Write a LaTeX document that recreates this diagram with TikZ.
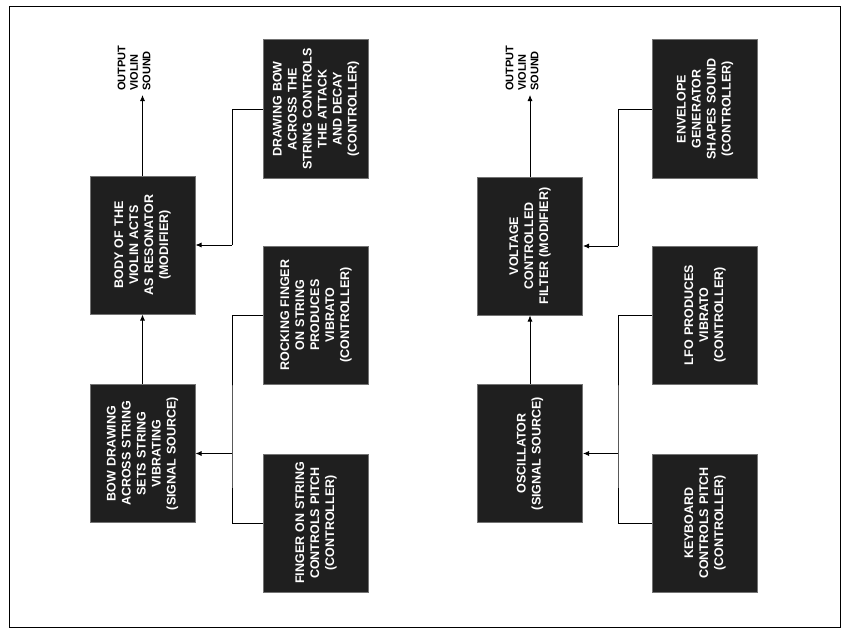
\documentclass[tikz,border=0pt]{standalone}
\usepackage{fontspec}
\setmainfont{Liberation Sans}
\usetikzlibrary{arrows.meta}
\newcommand{\myfontblk}{\fontsize{12.5}{15}\selectfont\bfseries\hyphenpenalty=10000\relax\exhyphenpenalty=10000\relax}
\begin{document}
\begin{tikzpicture}[x=1pt,y=-1pt,
  blk/.style={rotate=90,fill=black!88,draw=black!55,line width=1pt,text=white,
    minimum width=138pt,minimum height=105pt,inner sep=3pt,text width=126pt,align=center,
    font=\myfontblk},
  outlbl/.style={rotate=90,anchor=west,align=left,inner sep=1pt,
    font=\fontsize{11}{12.5}\selectfont\bfseries},
  wire/.style={line width=0.8pt},
  arr/.style={wire,-{Latex[length=6pt,width=5pt]}}]
\useasboundingbox (0,0) rectangle (848,634);
\draw[line width=0.8pt] (9,6) rectangle (840,627);
% ---- left: violin
\node[blk] (A) at (142.5,245) {BODY OF THE VIOLIN ACTS AS RESONATOR (MODIFIER)};
\node[blk] (B) at (142.5,453.5) {BOW DRAWING ACROSS STRING SETS STRING VIBRATING (SIGNAL SOURCE)};
\node[blk] (C1) at (316,109) {DRAWING BOW ACROSS THE STRING CONTROLS THE ATTACK AND DECAY (CONTROLLER)};
\node[blk] (C2) at (316,315) {ROCKING FINGER ON STRING PRODUCES VIBRATO (CONTROLLER)};
\node[blk] (C3) at (316,523) {FINGER ON STRING CONTROLS PITCH (CONTROLLER)};
\node[outlbl] (O1) at (134,92) {OUTPUT\\VIOLIN\\SOUND};
\coordinate (o1) at (142.5,95);
\coordinate (j1) at (232,245);
\coordinate (j2) at (232,453.5);
\draw[arr] (B) -- (A);
\draw[arr] (A) -- (o1);
\draw[wire] (C1.north) -| (j1);
\draw[arr] (j1) -- (A.south);
\draw[wire] (C2.north) -| (j2) |- (C3.north);
\draw[arr] (j2) -- (B.south);
% ---- right: synthesizer
\node[blk] (D) at (530,246) {VOLTAGE CONTROLLED FILTER (MODIFIER)};
\node[blk] (E) at (530,453.5) {OSCILLATOR (SIGNAL SOURCE)};
\node[blk] (F1) at (705,109) {ENVELOPE GENERATOR SHAPES SOUND (CONTROLLER)};
\node[blk] (F2) at (705,315) {LFO PRODUCES VIBRATO (CONTROLLER)};
\node[blk] (F3) at (705,523) {KEYBOARD CONTROLS PITCH (CONTROLLER)};
\node[outlbl] (O2) at (522,92) {OUTPUT\\VIOLIN\\SOUND};
\coordinate (o2) at (530,95);
\coordinate (k1) at (618,246);
\coordinate (k2) at (618,453.5);
\draw[arr] (E) -- (D);
\draw[arr] (D) -- (o2);
\draw[wire] (F1.north) -| (k1);
\draw[arr] (k1) -- (D.south);
\draw[wire] (F2.north) -| (k2) |- (F3.north);
\draw[arr] (k2) -- (E.south);
\end{tikzpicture}
\end{document}
